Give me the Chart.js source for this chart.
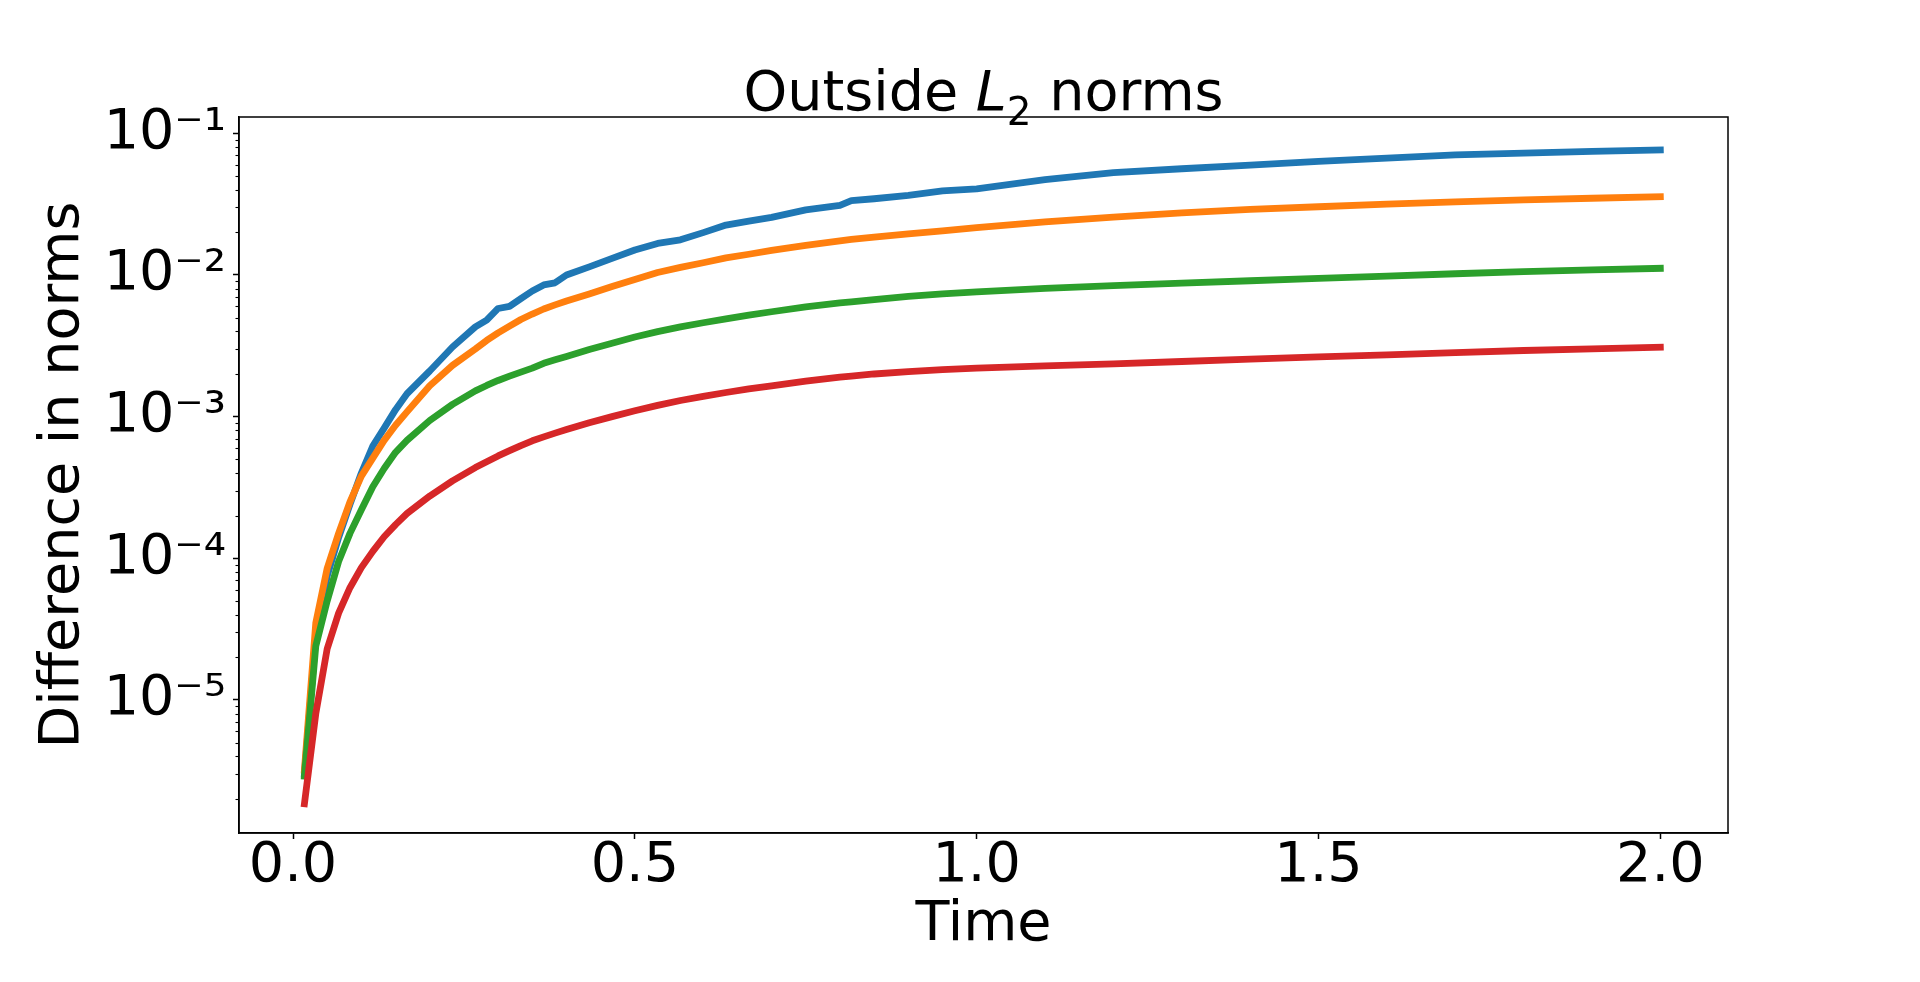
<!DOCTYPE html>
<html>
<head>
<meta charset="utf-8">
<script src="https://cdn.jsdelivr.net/npm/chart.js@4.4.1/dist/chart.umd.min.js"></script>
<style>
html,body{margin:0;padding:0;background:#ffffff;}
canvas{display:block;}
</style>
</head>
<body>
<canvas id="c" width="1920" height="982"></canvas>
<script>
// ---- data ----
const times = [0.0167,0.0333,0.05,0.0667,0.0833,0.1,0.1167,0.1333,0.15,0.1667,0.2,0.2333,0.2667,0.2833,0.3,0.3167,0.3333,0.35,0.3667,0.3833,0.4,0.4333,0.4667,0.5,0.5333,0.5667,0.6,0.6333,0.6667,0.7,0.75,0.8,0.8167,0.85,0.9,0.95,1.0,1.1,1.2,1.3,1.4,1.5,1.6,1.7,1.8,1.9,2.0];

const blueValues = [3.0e-6,2.8e-5,7.5e-5,1.4e-4,2.4e-4,4.0e-4,6.2e-4,8.3e-4,1.12e-3,1.45e-3,2.1e-3,3.1e-3,4.3e-3,4.8e-3,5.8e-3,6.0e-3,6.8e-3,7.7e-3,8.5e-3,8.8e-3,1.0e-2,1.14e-2,1.31e-2,1.5e-2,1.67e-2,1.77e-2,1.99e-2,2.25e-2,2.4e-2,2.55e-2,2.88e-2,3.1e-2,3.35e-2,3.45e-2,3.65e-2,3.92e-2,4.05e-2,4.7e-2,5.27e-2,5.62e-2,5.96e-2,6.33e-2,6.68e-2,7.03e-2,7.24e-2,7.45e-2,7.62e-2];

const orangeValues = [3.2e-6,3.5e-5,8.5e-5,1.5e-4,2.5e-4,3.8e-4,5.1e-4,6.8e-4,8.7e-4,1.08e-3,1.65e-3,2.3e-3,3.0e-3,3.45e-3,3.9e-3,4.35e-3,4.85e-3,5.3e-3,5.75e-3,6.15e-3,6.55e-3,7.35e-3,8.3e-3,9.3e-3,1.04e-2,1.13e-2,1.22e-2,1.32e-2,1.4e-2,1.49e-2,1.62e-2,1.74e-2,1.78e-2,1.85e-2,1.95e-2,2.05e-2,2.16e-2,2.37e-2,2.56e-2,2.74e-2,2.9e-2,3.03e-2,3.16e-2,3.28e-2,3.39e-2,3.48e-2,3.57e-2];

const greenValues = [2.9e-6,2.4e-5,5.0e-5,9.5e-5,1.5e-4,2.2e-4,3.2e-4,4.3e-4,5.6e-4,6.8e-4,9.4e-4,1.22e-3,1.52e-3,1.66e-3,1.8e-3,1.93e-3,2.06e-3,2.2e-3,2.38e-3,2.52e-3,2.66e-3,2.98e-3,3.3e-3,3.65e-3,3.98e-3,4.3e-3,4.6e-3,4.9e-3,5.2e-3,5.5e-3,5.95e-3,6.35e-3,6.45e-3,6.7e-3,7.05e-3,7.35e-3,7.6e-3,8.05e-3,8.4e-3,8.75e-3,9.1e-3,9.45e-3,9.8e-3,1.02e-2,1.055e-2,1.085e-2,1.114e-2];

const redValues = [1.85e-6,8.0e-6,2.3e-5,4.1e-5,6.2e-5,8.6e-5,1.12e-4,1.42e-4,1.73e-4,2.07e-4,2.75e-4,3.52e-4,4.37e-4,4.8e-4,5.28e-4,5.75e-4,6.25e-4,6.75e-4,7.2e-4,7.65e-4,8.1e-4,9.05e-4,1.0e-3,1.1e-3,1.2e-3,1.3e-3,1.39e-3,1.48e-3,1.57e-3,1.65e-3,1.78e-3,1.9e-3,1.93e-3,2.0e-3,2.08e-3,2.15e-3,2.2e-3,2.28e-3,2.36e-3,2.45e-3,2.55e-3,2.64e-3,2.73e-3,2.83e-3,2.93e-3,3.01e-3,3.09e-3];

const xTickValues = [0.0, 0.5, 1.0, 1.5, 2.0];
const yTickExponents = [-1, -2, -3, -4, -5];

// title pieces: normal text, italic symbol, subscript, normal text
const titleParts = [
  {text: 'Outside ', style: 'normal', sub: false},
  {text: 'L', style: 'italic', sub: false},
  {text: '2', style: 'normal', sub: true},
  {text: ' norms', style: 'normal', sub: false}
];
const xLabel = 'Time';
const yLabel = 'Difference in norms';

// ---- helpers ----
const SUP = {'-':'\u207B','0':'\u2070','1':'\u00B9','2':'\u00B2','3':'\u00B3','4':'\u2074','5':'\u2075','6':'\u2076','7':'\u2077','8':'\u2078','9':'\u2079'};
function powerLabel(exp){ return '10' + String(exp).split('').map(c => SUP[c]).join(''); }
function toPoints(vals){ return times.map((t, i) => ({x: t, y: vals[i]})); }

const FONT = 'DejaVu Sans';
const FS = 55.6;

const titlePlugin = {
  id: 'mathTitle',
  afterDraw(chart){
    const {ctx, chartArea: a} = chart;
    ctx.save();
    ctx.fillStyle = '#000';
    ctx.textBaseline = 'alphabetic';
    ctx.textAlign = 'left';
    const fontFor = p => `${p.style} normal ${p.sub ? FS * 0.7 : FS}px "${FONT}"`;
    let total = 0;
    const widths = titleParts.map(p => { ctx.font = fontFor(p); const w = ctx.measureText(p.text).width; total += w; return w; });
    let x = (a.left + a.right) / 2 - total / 2;
    const baseline = 109.5;
    titleParts.forEach((p, i) => {
      ctx.font = fontFor(p);
      ctx.fillText(p.text, x, p.sub ? baseline + 15 : baseline);
      x += widths[i];
    });
    ctx.restore();
  }
};

const frame = {
  id: 'frame',
  afterDraw(chart){
    const {ctx, chartArea: a} = chart;
    const y = chart.scales.y;
    ctx.save();
    ctx.strokeStyle = '#000';
    ctx.lineWidth = 1.1;
    for (let k = -7; k <= 0; k++){
      for (let m = 2; m <= 9; m++){
        const v = m * Math.pow(10, k);
        if (v < y.min || v > y.max) continue;
        const py = Math.round(y.getPixelForValue(v)) + 0.5;
        ctx.beginPath();
        ctx.moveTo(a.left - 3.5, py);
        ctx.lineTo(a.left, py);
        ctx.stroke();
      }
    }
    ctx.lineWidth = 1.5;
    ctx.strokeRect(a.left, a.top, a.right - a.left, a.bottom - a.top);
    ctx.restore();
  }
};

const makeDs = (label, vals, color, order) => ({
  label, data: toPoints(vals), borderColor: color, backgroundColor: color,
  borderWidth: 6.8, pointRadius: 0, pointHoverRadius: 0, tension: 0, fill: false,
  borderCapStyle: 'square', borderJoinStyle: 'round', order
});

new Chart(document.getElementById('c'), {
  type: 'line',
  data: {
    datasets: [
      makeDs('blue', blueValues, '#1f77b4', 3),
      makeDs('orange', orangeValues, '#ff7f0e', 2),
      makeDs('green', greenValues, '#2ca02c', 1),
      makeDs('red', redValues, '#d62728', 0)
    ]
  },
  options: {
    responsive: false,
    animation: false,
    devicePixelRatio: 1,
    layout: {padding: {left: 0, right: 192, top: 117, bottom: 0}},
    plugins: {
      legend: {display: false},
      tooltip: {enabled: false},
      title: {display: false}
    },
    scales: {
      x: {
        type: 'linear', min: -0.079, max: 2.099,
        afterBuildTicks: s => { s.ticks = xTickValues.map(v => ({value: v})); },
        afterFit: s => { s.height = 149; },
        ticks: {
          color: '#000', padding: 0,
          font: {family: FONT, size: FS, lineHeight: 1},
          callback: v => Number(v).toFixed(1),
          maxRotation: 0, autoSkip: false
        },
        grid: {drawOnChartArea: false, drawTicks: true, tickLength: 6, tickColor: '#000', tickWidth: 1.5},
        border: {display: true, color: '#000', width: 1.5},
        title: {display: true, text: xLabel, color: '#000', font: {family: FONT, size: FS, lineHeight: 1.2}, padding: {top: 0, bottom: 22.8}}
      },
      y: {
        type: 'logarithmic', min: 1.151e-6, max: 0.1303,
        afterBuildTicks: s => { s.ticks = yTickExponents.map(e => ({value: Math.pow(10, e), major: true})); },
        afterFit: s => { s.width = 239; },
        ticks: {
          color: '#000', padding: 7,
          font: {family: FONT, size: FS, lineHeight: 1},
          callback: v => powerLabel(Math.round(Math.log10(v))),
          autoSkip: false
        },
        grid: {drawOnChartArea: false, drawTicks: true, tickLength: 6, tickColor: '#000', tickWidth: 1.5},
        border: {display: true, color: '#000', width: 1.5},
        title: {display: true, text: yLabel, color: '#000', font: {family: FONT, size: FS, lineHeight: 1.2}, padding: {top: 30.4, bottom: 0}}
      }
    }
  },
  plugins: [frame, titlePlugin]
});
</script>
</body>
</html>
